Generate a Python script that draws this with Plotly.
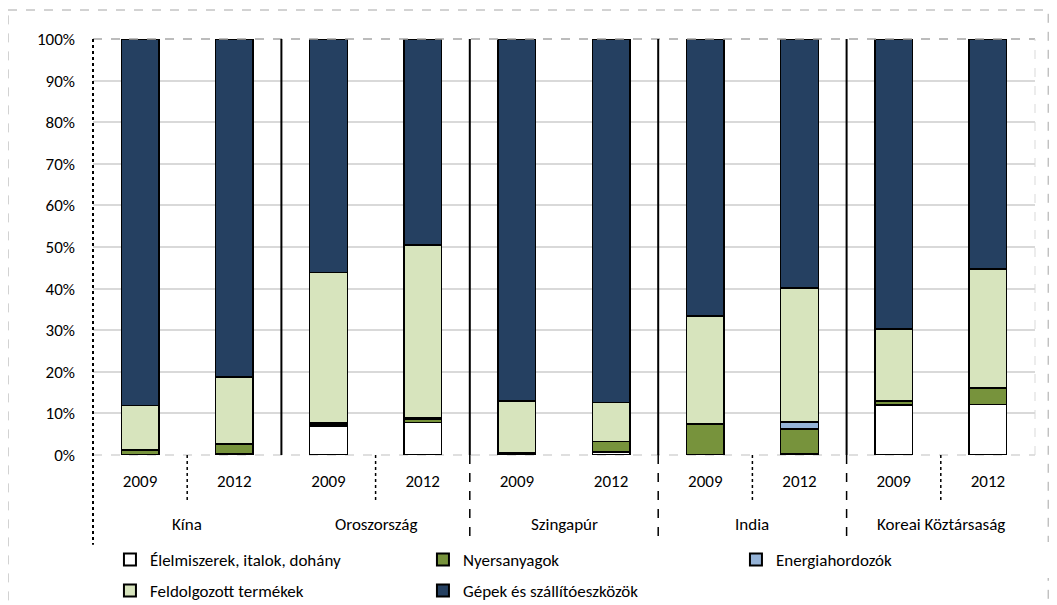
import plotly.graph_objects as go

countries = ["Kína", "Oroszország", "Szingapúr", "India", "Koreai Köztársaság"]
years = ["2009", "2012"]

series_names = ["Élelmiszerek, italok, dohány", "Nyersanyagok", "Energiahordozók",
                "Feldolgozott termékek", "Gépek és szállítóeszközök"]
# order of bars: Kína 2009, Kína 2012, Oroszország 2009, ... (percent)
food = [0.1, 0.2, 6.8, 7.8, 0.1, 0.7, 0.1, 0.2, 12.0, 12.2]
raw = [1.0, 2.3, 0.4, 0.8, 0.3, 2.5, 7.3, 6.0, 1.0, 3.8]
energy = [0.1, 0.1, 0.5, 0.3, 0.1, 0.1, 0.0, 1.7, 0.1, 0.1]
processed = [10.7, 16.2, 36.2, 41.6, 12.5, 9.3, 26.0, 32.2, 17.2, 28.6]
machinery = [88.1, 81.2, 56.1, 49.5, 87.0, 87.4, 66.6, 59.9, 69.7, 55.3]

colors = ["#FFFFFF", "#77933C", "#95B3D7", "#D7E4BD", "#254061"]
series_values = [food, raw, energy, processed, machinery]
legend_ids = ["legend", "legend", "legend", "legend2", "legend2"]

n = len(countries) * len(years)
x_idx = list(range(n))
tick_text = [y for c in countries for y in years]

FONT = "Carlito, Calibri, Lato, sans-serif"
FS = 17

# the page body has an 8px margin; size the figure so the plot lands where the reference has it
W, H = 1049, 597
L, T, PW, PH = 85, 31, 942, 416

fig = go.Figure()
for name, vals, col, lg in zip(series_names, series_values, colors, legend_ids):
    fig.add_trace(go.Bar(
        x=x_idx, y=[v / 100 for v in vals], name=name, legend=lg,
        marker=dict(color=col, line=dict(color="black", width=1.5)),
        width=0.4,
    ))

def px(i):
    return (i + 0.5) / n

shapes = []
shapes.append(dict(type="line", xref="paper", yref="paper", x0=0, x1=1, y0=1, y1=1,
                   line=dict(color="#A6A6A6", width=1.5, dash="dash")))
shapes.append(dict(type="line", xref="paper", yref="paper", x0=0, x1=1, y0=0, y1=0,
                   line=dict(color="#BFBFBF", width=1, dash="dash"), layer="below"))
shapes.append(dict(type="line", xref="paper", yref="paper", x0=1, x1=1, y0=0, y1=1,
                   line=dict(color="#D9D9D9", width=1, dash="dash")))
shapes.append(dict(type="line", xref="paper", yref="paper", x0=0, x1=0, y0=1, y1=-0.216,
                   line=dict(color="black", width=2, dash="dot")))
for k in range(1, len(countries)):
    xb = px(2 * k - 0.5)
    shapes.append(dict(type="line", xref="paper", yref="paper", x0=xb, x1=xb, y0=0, y1=1,
                       line=dict(color="black", width=2)))
for k in [2, 3, 4]:
    xb = px(2 * k - 0.5)
    shapes.append(dict(type="line", xref="paper", yref="paper", x0=xb, x1=xb, y0=0, y1=-0.216,
                       line=dict(color="black", width=1.5, dash="dash")))
for k in [0, 1, 3, 4]:
    xb = px(2 * k + 0.5)
    shapes.append(dict(type="line", xref="paper", yref="paper", x0=xb, x1=xb, y0=0, y1=-0.11,
                       line=dict(color="black", width=1.5, dash="dot")))
shapes.append(dict(type="rect", xref="paper", yref="paper",
                   x0=-85 / PW, x1=1.014, y0=(PH + T - 2) / PH, y1=-(H - T - PH + 10) / PH,
                   line=dict(color="#A6A6A6", width=1, dash="dash")))

annotations = []
for i, c in enumerate(countries):
    annotations.append(dict(text=c, xref="paper", yref="paper", x=px(2 * i + 0.5),
                            y=-0.166, showarrow=False, xanchor="center", yanchor="middle",
                            font=dict(family=FONT, size=FS, color="black")))

leg_common = dict(orientation="h", xref="paper", yref="container", xanchor="left",
                  yanchor="top", traceorder="normal", entrywidth=268,
                  entrywidthmode="pixels", font=dict(family=FONT, size=FS),
                  itemsizing="constant", tracegroupgap=0, itemwidth=30)

fig.update_layout(
    width=W, height=H,
    margin=dict(l=L, r=W - L - PW, t=T, b=H - T - PH, autoexpand=False),
    paper_bgcolor="white", plot_bgcolor="white",
    barmode="stack",
    font=dict(family=FONT, size=FS, color="black"),
    showlegend=True,
    legend=dict(x=0.018, y=1 - 534 / H, **leg_common),
    legend2=dict(x=0.018, y=1 - 565 / H, **leg_common),
    shapes=shapes,
    annotations=annotations,
    xaxis=dict(range=[-0.5, n - 0.5], tickmode="array", tickvals=x_idx, ticktext=tick_text,
               showgrid=False, showline=False, zeroline=False, ticks="", automargin=False,
               ticklabelstandoff=14, tickfont=dict(family=FONT, size=FS)),
    yaxis=dict(range=[0, 1], tickformat=".0%", dtick=0.1, showgrid=True, automargin=False,
               gridcolor="#D9D9D9", gridwidth=1.5, zeroline=False, showline=False,
               ticks="", ticklabelstandoff=17, tickfont=dict(family=FONT, size=FS)),
)

fig.write_html("out.html")
